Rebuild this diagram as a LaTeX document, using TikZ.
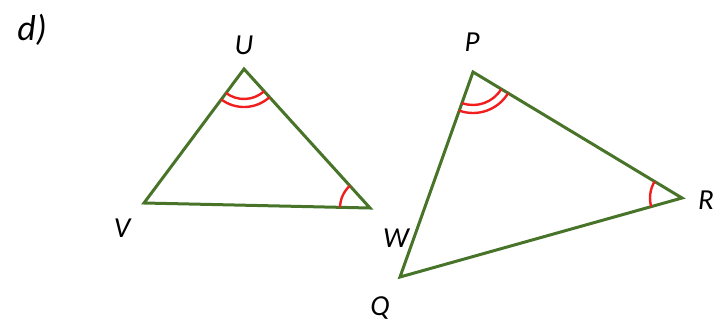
\documentclass[tikz,border=0pt]{standalone}
\usepackage{fontspec}
\setmainfont{Carlito}
\usetikzlibrary{angles}
\definecolor{sidegreen}{RGB}{72,116,42}
\definecolor{markred}{RGB}{240,30,30}

\begin{document}
\begin{tikzpicture}[x=1pt, y=1pt,
    side/.style={draw=sidegreen, line width=3pt, line join=miter},
    anglemark/.style={draw=markred, line width=2.4pt},
    every node/.style={font=\fontsize{29}{32}\selectfont\itshape}]
    \useasboundingbox (0,0) rectangle (719,322);

    % Vertices
    \coordinate (U) at (244,253);
    \coordinate (V) at (144,119);
    \coordinate (W) at (370,114);
    \coordinate (P) at (473,250);
    \coordinate (R) at (682,124);
    \coordinate (Q) at (400,45);

    % Triangles
    \draw[side] (U) -- (V) -- (W) -- cycle;
    \draw[side] (P) -- (Q) -- (R) -- cycle;

    % Angle marks
    \path pic[anglemark, angle radius=30pt] {angle = V--U--W};
    \path pic[anglemark, angle radius=38pt] {angle = V--U--W};
    \path pic[anglemark, angle radius=30pt] {angle = U--W--V};
    \path pic[anglemark, angle radius=33pt] {angle = Q--P--R};
    \path pic[anglemark, angle radius=41pt] {angle = Q--P--R};
    \path pic[anglemark, angle radius=32pt] {angle = P--R--Q};

    % Labels
    \node[font=\fontsize{36}{40}\selectfont\itshape] (lblD) at (32,292) {d)};
    \node (lblU) at (244,277) {U};
    \node (lblV) at (122,94) {V};
    \node (lblW) at (396,84) {W};
    \node (lblP) at (472,280) {P};
    \node (lblR) at (706,122) {R};
    \node (lblQ) at (380,14) {Q};
\end{tikzpicture}
\end{document}
